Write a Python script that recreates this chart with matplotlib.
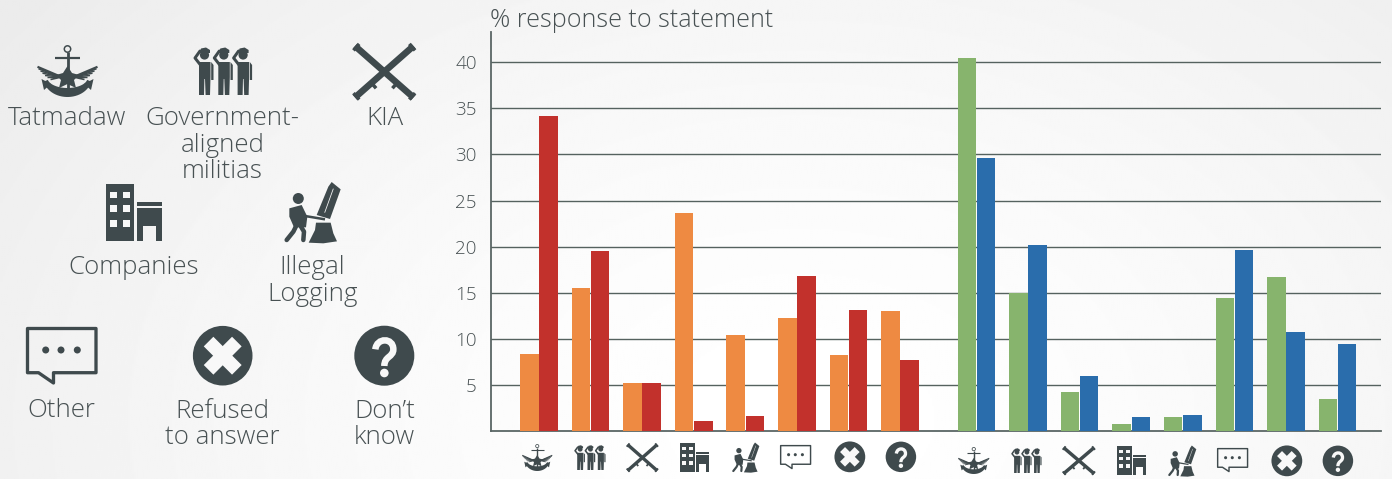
import numpy as np
import matplotlib
matplotlib.use("Agg")
import matplotlib.pyplot as plt
from matplotlib.patches import Polygon, Circle, PathPatch
from matplotlib.path import Path
from matplotlib.transforms import Affine2D

# ---------- data ----------
group_a_orange = [8.4, 15.5, 5.2, 23.6, 10.4, 12.3, 8.3, 13.0]
group_a_red = [34.2, 19.5, 5.2, 1.1, 1.6, 16.8, 13.1, 7.7]
group_b_green = [40.5, 15.0, 4.2, 0.8, 1.5, 14.4, 16.7, 3.5]
group_b_blue = [29.6, 20.2, 6.0, 1.5, 1.8, 19.6, 10.7, 9.4]
y_ticks = [5, 10, 15, 20, 25, 30, 35, 40]
title = "% response to statement"

ORANGE, RED, GREEN, BLUE = "#EE8A42", "#C2312C", "#87B46D", "#2A6DAC"
ICON = "#3F4A4D"
TXT = "#485153"
GRID = "#55625F"
W, H = 1392, 479
FONT = "Open Sans"

plt.rcParams["font.family"] = [FONT, "DejaVu Sans"]
fig = plt.figure(figsize=(W / 100, H / 100), dpi=100)

# ---------- background ----------
bg = fig.add_axes([0, 0, 1, 1], zorder=0)
yy, xx = np.mgrid[0:H:240j, 0:W:700j]
d = np.hypot((xx - 800) / 820, (yy - 420) / 560)
bg.imshow(1 - 0.058 * np.clip(d, 0, 1.2) ** 1.5, cmap="gray", vmin=0, vmax=1,
          extent=[0, W, H, 0], aspect="auto")
bg.axis("off")

# ---------- chart ----------
ax = fig.add_axes([490.5 / W, 1 - 431.2 / H, (1381 - 490.5) / W, (431.2 - 32) / H], zorder=1)
ax.patch.set_alpha(0)
unit = 51.6
ax.set_xlim((490.5 - 538.9) / unit, (1381 - 538.9) / unit)
ax.set_ylim(0, (431.2 - 32) / 9.225)
bw = 18.5 / unit
off = 9.6 / unit
xa = np.arange(8)
xb = xa + 437.5 / unit
ax.bar(xa - off, group_a_orange, bw, color=ORANGE, zorder=3)
ax.bar(xa + off, group_a_red, bw, color=RED, zorder=3)
ax.bar(xb - off, group_b_green, bw, color=GREEN, zorder=3)
ax.bar(xb + off, group_b_blue, bw, color=BLUE, zorder=3)
ax.set_yticks(y_ticks)
ax.set_xticks([])
ax.yaxis.grid(True, color=GRID, lw=1.0, zorder=1)
ax.set_axisbelow(True)
ax.tick_params(axis="y", length=0, pad=10, labelsize=13.6, labelcolor=TXT)
for lb in ax.get_yticklabels():
    lb.set_fontweight("light")
for s in ("top", "right"):
    ax.spines[s].set_visible(False)
for s in ("left", "bottom"):
    ax.spines[s].set_color("#5A6665")
    ax.spines[s].set_linewidth(1.3)

# ---------- overlay in pixel coordinates ----------
ov = fig.add_axes([0, 0, 1, 1], zorder=2)
ov.set_xlim(0, W)
ov.set_ylim(H, 0)
ov.axis("off")
ov.patch.set_alpha(0)

WHITE = "#F8F8F8"

def place(src, dst):
    sx = (dst[2] - dst[0]) / (src[2] - src[0])
    sy = (dst[3] - dst[1]) / (src[3] - src[1])
    return Affine2D().translate(-src[0], -src[1]).scale(sx, sy).translate(dst[0], dst[1]), sx

def add_poly(T, pts, color=ICON, **k):
    ov.add_patch(Polygon(T.transform(np.array(pts, float)), closed=True, fc=color, ec="none", **k))

def add_line(T, s, pts, w, color=ICON, cap="butt"):
    p = T.transform(np.array(pts, float))
    ov.plot(p[:, 0], p[:, 1], color=color, lw=w * s * 0.72, solid_capstyle=cap, solid_joinstyle="round")

def add_circ(T, s, c, r, color=ICON, fill=True, w=1.0):
    c2 = T.transform(np.array([c], float))[0]
    ov.add_patch(Circle(c2, r * s, fc=color if fill else "none",
                        ec="none" if fill else color, lw=0 if fill else w * s * 0.72))

def anchor(T, s):
    add_circ(T, s, (67.5, 49), 3.2, fill=False, w=1.5)
    add_line(T, s, [(55, 57.5), (80, 57.5)], 2.2)
    add_line(T, s, [(67.5, 52), (67.5, 90)], 2.8)
    for sgn in (-1, 1):
        for (ex, ey, w) in [(30, 66.8, 2.2), (29, 68.8, 1.5), (27, 71, 1.5), (25, 73.2, 1.5),
                            (22.5, 75.5, 1.5), (20, 77.5, 1.5), (17, 79.5, 1.7)]:
            add_line(T, s, [(67.5 + sgn * 6, 77), (67.5 + sgn * ex, ey)], w)
    add_poly(T, [(67.5, 66), (72, 73), (79, 75), (74, 80), (76, 88), (67.5, 84), (59, 88), (61, 80), (56, 75), (63, 73)])
    th = np.linspace(np.pi * 0.06, np.pi * 0.94, 30)
    outer = np.c_[67.5 + 24 * np.cos(th), 78 + 19 * np.sin(th)]
    inner = np.c_[67.5 + 20 * np.cos(th[::-1]), 78 + 10 * np.sin(th[::-1])]
    add_poly(T, np.r_[outer, inner])
    add_poly(T, [(41.5, 79), (51, 84), (44, 90)])
    add_poly(T, [(93.5, 79), (84, 84), (91, 90)])

def soldier(T, s, dx):
    add_circ(T, s, (204.5 + dx, 55), 4.6)
    add_poly(T, [(199.5 + dx, 53), (201 + dx, 48.5), (206 + dx, 47.5), (210 + dx, 50), (210 + dx, 53)])
    add_poly(T, [(199 + dx, 62), (210.5 + dx, 62), (210.5 + dx, 77), (210 + dx, 95), (205.6 + dx, 95),
                 (205 + dx, 79), (204.4 + dx, 79), (204 + dx, 95), (199 + dx, 95)])
    add_poly(T, [(211.2 + dx, 62), (213.5 + dx, 65), (213.5 + dx, 80), (211.2 + dx, 80)])
    add_line(T, s, [(200.5 + dx, 65), (195 + dx, 58), (200 + dx, 51)], 3.0, cap="round")

def militias(T, s):
    for dx in (0, 19.3, 38.6):
        soldier(T, s, dx)

def crossed(T, s):
    for a, b in [((355, 46), (413.5, 97.5)), ((413.5, 46), (355, 97.5))]:
        a, b = np.array(a, float), np.array(b, float)
        u = (b - a) / np.linalg.norm(b - a)
        n = np.array([-u[1], u[0]]) * (1 if a[0] < b[0] else -1)
        add_line(T, s, [a, b], 6.6)
        add_line(T, s, [a, a + u * 3.5], 8.6)
        add_line(T, s, [b - u * 3.5, b], 8.6)
        add_line(T, s, [a + u * 56 + n * 7, a + u * 56], 3.5)

def companies(T, s):
    add_poly(T, [(105.7, 184), (133.7, 184), (133.7, 241), (105.7, 241)])
    for x0 in (110, 123.3):
        for y0 in (191.7, 205, 220):
            add_poly(T, [(x0, y0), (x0 + 6.7, y0), (x0 + 6.7, y0 + 6.7), (x0, y0 + 6.7)], color=WHITE)
    add_poly(T, [(137, 202.3), (161.7, 202.3), (161.7, 205.7), (137, 205.7)])
    add_poly(T, [(137, 207.7), (161.7, 207.7), (161.7, 241), (156, 241), (156, 225.7),
                 (143.3, 225.7), (143.3, 241), (137, 241)])

def logging_icon(T, s):
    z = lambda pts: [(x / 3, y / 3 + 30) for x, y in pts]
    add_circ(T, s, (298.3, 198.5), 5.5)
    add_poly(T, z([(868, 535), (905, 525), (922, 560), (918, 592), (882, 592), (868, 560)]))
    add_line(T, s, z([(890, 585), (880, 605), (860, 630)]), 4.5, cap="round")
    add_line(T, s, z([(900, 585), (912, 605), (910, 630)]), 4.5, cap="round")
    add_line(T, s, z([(915, 558), (975, 568)]), 2.5)
    add_poly(T, z([(950, 555), (990, 567), (1022, 478), (995, 456), (985, 470)]))
    add_poly(T, z([(926, 638), (945, 600), (948, 578), (992, 578), (1000, 610), (1011, 634), (970, 640)]))
    add_line(T, s, z([(974, 548), (1000, 476)]), 0.8, color=WHITE)

def bubble(T, s):
    x0, y0 = T.transform((27.5, 328.5))
    x1, y1 = T.transform((96, 372.7))
    xtail = T.transform(np.array([(38.5, 372.7), (53.5, 383), (53.5, 372.7)]))
    v = [(x0, y0), (x1, y0), (x1, y1), tuple(xtail[2]), tuple(xtail[1]), tuple(xtail[0]), (x0, y1), (x0, y0)]
    ov.add_patch(Polygon(v, closed=True, fc="none", ec=ICON, lw=3.3 * s * 0.72, joinstyle="round"))
    for cx in (45.7, 61, 77.3):
        add_circ(T, s, (cx, 350), 3.5)

def refused(T, s):
    add_circ(T, s, (222.7, 355.7), 29.8)
    c = np.array((222.7, 355.7))
    for ang in (np.pi / 4, -np.pi / 4):
        u = np.array([np.cos(ang), np.sin(ang)])
        n = np.array([-u[1], u[0]])
        add_poly(T, [c + u * 20 + n * 6.8, c + u * 20 - n * 6.8, c - u * 20 - n * 6.8, c - u * 20 + n * 6.8], color=WHITE)

def question(T, s):
    add_circ(T, s, (384.3, 355.7), 30)
    z = lambda x, y: (x / 3, y / 3 + 250)
    verts = [z(1126, 298), z(1130, 262), z(1180, 262), z(1180, 298),
             z(1180, 322), z(1153, 318), z(1153, 348)]
    codes = [Path.MOVETO, Path.CURVE4, Path.CURVE4, Path.CURVE4, Path.CURVE4, Path.CURVE4, Path.CURVE4]
    p = Path(T.transform(np.array(verts)), codes)
    ov.add_patch(PathPatch(p, fc="none", ec=WHITE, lw=6.5 * s * 0.72, capstyle="butt"))
    add_circ(T, s, z(1153, 369), 4.3, color=WHITE)

ICONS = [
    (anchor, (37, 45, 97, 97), [(522, 444, 552, 471), (958, 447, 989, 474)]),
    (militias, (193, 47, 253, 95), [(574, 445, 606, 470), (1011, 448, 1042, 473)]),
    (crossed, (354, 43, 415, 100), [(627, 443, 658, 472), (1063, 446, 1095, 475)]),
    (companies, (105.7, 184, 161.7, 241), [(680, 443, 709, 472), (1117, 446, 1146, 475)]),
    (logging_icon, (284, 181, 342, 244), [(732, 442, 760, 473), (1168, 445, 1197, 477)]),
    (bubble, (26, 327, 97, 384), [(780, 445, 811, 469), (1217, 448, 1248, 472)]),
    (refused, (193, 326, 253, 386), [(834.5, 441.5, 865.5, 472.5), (1271.5, 445.5, 1302.5, 476.5)]),
    (question, (354, 326, 415, 386), [(885.5, 441.5, 916.5, 472.5), (1322.5, 445.5, 1353.5, 476.5)]),
]
for fn, box, smalls in ICONS:
    T, s = place(box, box)
    fn(T, s)
    for dst in smalls:
        T, s = place(box, dst)
        fn(T, s)

# ---------- labels ----------
labels = [
    ("Tatmadaw", 67.5, 118), ("Government-", 222.5, 118), ("aligned", 222.5, 145), ("militias", 222.5, 172),
    ("KIA", 384.5, 118), ("Companies", 133.5, 267), ("Illegal", 312, 267.5), ("Logging", 313, 294.5),
    ("Other", 61.5, 410.5), ("Refused", 222.5, 411), ("to answer", 222.5, 437.5),
    ("Don\u2019t", 384.5, 411), ("know", 384.5, 437.5),
]
for t, x, y in labels:
    ov.text(x, y, t, ha="center", va="center", fontsize=18.6, color=TXT, fontweight="light")
ov.text(490, 20, title, ha="left", va="center", fontsize=18.1, color=TXT, fontweight="light")

fig.savefig("out.png", dpi=100)
